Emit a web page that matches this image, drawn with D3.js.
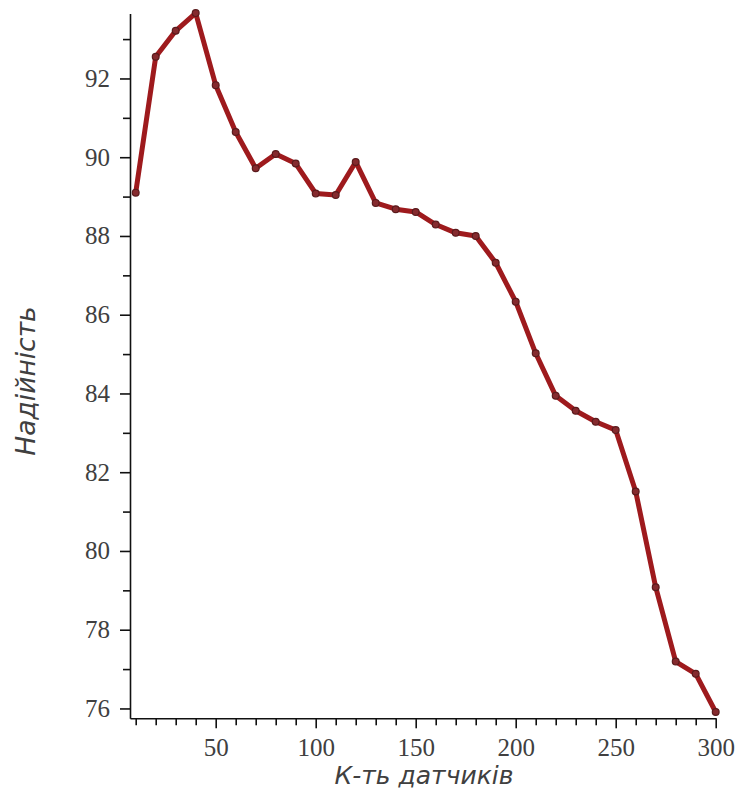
<!DOCTYPE html>
<html>
<head>
<meta charset="utf-8">
<script src="https://cdn.jsdelivr.net/npm/d3@7"></script>
<style>
  html, body { margin: 0; padding: 0; background: #fff; }
  svg { display: block; }
</style>
</head>
<body>
<svg id="chart" width="736" height="789"></svg>
<script>
// Number of sensors
const sensors = [10, 20, 30, 40, 50, 60, 70, 80, 90, 100,
                 110, 120, 130, 140, 150, 160, 170, 180, 190, 200,
                 210, 220, 230, 240, 250, 260, 270, 280, 290, 300];
// Reliability
const reliability = [89.10, 92.55, 93.21, 93.66, 91.83, 90.64, 89.72, 90.08, 89.84, 89.08,
                     89.04, 89.88, 88.84, 88.68, 88.61, 88.29, 88.08, 88.00, 87.32, 86.33,
                     85.02, 83.94, 83.56, 83.28, 83.07, 81.51, 79.08, 77.19, 76.88, 75.91];

const xMajorTicks = [50, 100, 150, 200, 250, 300];
const xMinorTicks = d3.range(10, 300, 10).filter(v => v % 50 !== 0);
const yMajorTicks = [76, 78, 80, 82, 84, 86, 88, 90, 92];
const yMinorTicks = [77, 79, 81, 83, 85, 87, 89, 91, 93];

const xTitle = "К-ть датчиків";
const yTitle = "Надійність";

const svg = d3.select("#chart");

const x = d3.scaleLinear().domain([7.15, 300]).range([130, 715.7]);
const y = d3.scaleLinear().domain([75.75, 93.65]).range([718.3, 13.5]);

const tickFont = "'Liberation Serif', 'Times New Roman', serif";
const titleFont = "'DejaVu Sans', Verdana, sans-serif";
const inkColor = "#111";
const textColor = "#404040";

// X axis: labelled major ticks plus short minor ticks
const xAxis = svg.append("g").attr("transform", `translate(0,${y.range()[0]})`);
xAxis.call(d3.axisBottom(x).tickValues(xMajorTicks).tickSize(10).tickPadding(10).tickSizeOuter(0))
  .call(g => g.select(".domain").attr("stroke", inkColor).attr("stroke-width", 1.6))
  .call(g => g.selectAll(".tick line").attr("stroke", inkColor).attr("stroke-width", 1.6))
  .call(g => g.selectAll(".tick text")
    .attr("font-family", tickFont).attr("font-size", 25).attr("fill", textColor));
xAxis.append("g").call(d3.axisBottom(x).tickValues(xMinorTicks).tickSize(7).tickFormat("").tickSizeOuter(0))
  .call(g => g.select(".domain").remove())
  .call(g => g.selectAll(".tick line").attr("stroke", inkColor).attr("stroke-width", 1.6));

// Y axis
const yAxis = svg.append("g").attr("transform", `translate(${x.range()[0]},0)`);
yAxis.call(d3.axisLeft(y).tickValues(yMajorTicks).tickSize(10).tickPadding(10).tickSizeOuter(0))
  .call(g => g.select(".domain").attr("stroke", inkColor).attr("stroke-width", 1.6))
  .call(g => g.selectAll(".tick line").attr("stroke", inkColor).attr("stroke-width", 1.6))
  .call(g => g.selectAll(".tick text")
    .attr("font-family", tickFont).attr("font-size", 25).attr("fill", textColor));
yAxis.append("g").call(d3.axisLeft(y).tickValues(yMinorTicks).tickSize(7).tickFormat("").tickSizeOuter(0))
  .call(g => g.select(".domain").remove())
  .call(g => g.selectAll(".tick line").attr("stroke", inkColor).attr("stroke-width", 1.6));

// Axis titles
svg.append("text")
  .attr("x", 424).attr("y", 784)
  .attr("text-anchor", "middle")
  .attr("font-family", titleFont).attr("font-style", "italic")
  .attr("font-size", 25).attr("fill", textColor)
  .text(xTitle);

svg.append("text")
  .attr("transform", "translate(35,381) rotate(-90)")
  .attr("text-anchor", "middle")
  .attr("font-family", titleFont).attr("font-style", "italic")
  .attr("font-size", 26.5).attr("fill", textColor)
  .text(yTitle);

// Reliability curve
const points = sensors.map((s, i) => [s, reliability[i]]);
const line = d3.line().x(d => x(d[0])).y(d => y(d[1]));

svg.append("path")
  .datum(points)
  .attr("d", line)
  .attr("fill", "none")
  .attr("stroke", "#9e1a1d")
  .attr("stroke-width", 5)
  .attr("stroke-linejoin", "round")
  .attr("stroke-linecap", "round");

svg.append("g").selectAll("circle")
  .data(points)
  .join("circle")
  .attr("cx", d => x(d[0]))
  .attr("cy", d => y(d[1]))
  .attr("r", 3.4)
  .attr("fill", "#852a2e")
  .attr("stroke", "#5a1a1c")
  .attr("stroke-width", 1.2);
</script>
</body>
</html>
